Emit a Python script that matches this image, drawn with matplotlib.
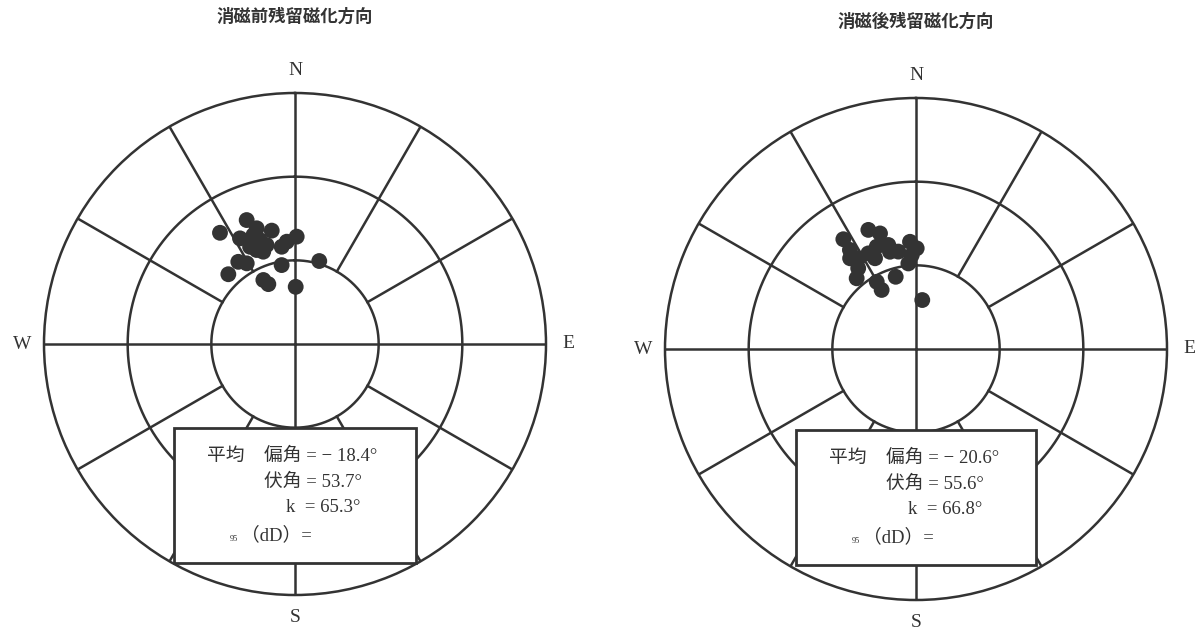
import numpy as np
import matplotlib
matplotlib.use('Agg')
import matplotlib.pyplot as plt
from matplotlib.patches import Rectangle

# declination (deg, clockwise from N) / inclination (deg)
dec_before = [-34.0, -21.3, -18.3, -11.6, -27.5, 0.9, -4.6, -7.8, -18.6, -22.2, -19.0,
              -24.8, -34.6, -30.9, -43.7, -9.6, 16.3, -26.3, -24.0, 0.7, -20.9, -16.0]
inc_before = [41.9, 42.3, 46.3, 48.5, 47.3, 51.5, 53.2, 54.8, 50.7, 53.6, 55.0,
              51.6, 54.2, 56.3, 55.4, 61.3, 59.0, 64.4, 66.5, 69.5, 48.2, 53.1]

dec_after = [-21.8, -17.3, -33.5, -33.7, -36.0, -32.5, -35.6, -40.0, -21.0, -24.3, -14.9,
             -10.3, -15.0, -3.2, 0.4, -2.6, -5.1, -30.3, -30.2, -15.7, 7.3, -26.5]
inc_after = [44.0, 46.6, 42.8, 47.3, 49.8, 51.5, 54.4, 56.9, 50.7, 54.3, 51.4,
             54.5, 53.9, 51.5, 53.9, 56.3, 59.2, 62.1, 65.5, 63.1, 72.3, 51.7]

titles = ['消磁前残留磁化方向', '消磁後残留磁化方向']
mean_dec = ['偏角 = − 18.4°', '偏角 = − 20.6°']
mean_inc = ['伏角 = 53.7°', '伏角 = 55.6°']
k_vals = ['k  = 65.3°', 'k  = 66.8°']

W, H = 1196, 631
ink = '#333333'
fam = ['Liberation Serif', 'Noto Sans CJK JP']


def px(x, y):
    return x / W, 1 - y / H


fig = plt.figure(figsize=(W / 100, H / 100), dpi=100)

# (centre x, centre y, box left, box top, box right, box bottom) in pixels
layout = [(295, 344, 174, 428, 416, 563), (916, 349, 796, 430, 1036, 565)]
R = 251
data = [(dec_before, inc_before), (dec_after, inc_after)]

for i, (cx, cy, bl, bt, br, bb) in enumerate(layout):
    x0, y0 = px(cx - R, cy + R)
    ax = fig.add_axes([x0, y0, 2 * R / W, 2 * R / H], projection='polar')
    ax.set_theta_zero_location('N')
    ax.set_theta_direction(-1)
    ax.set_ylim(0, 90)
    ax.grid(False)
    ax.set_xticks([])
    ax.set_yticks([])
    ax.spines['polar'].set_color(ink)
    ax.spines['polar'].set_linewidth(1.8)

    t = np.linspace(0, 2 * np.pi, 361)
    for rr in (30, 60):
        ax.plot(t, np.full_like(t, rr), color=ink, lw=1.8)
    for a in range(0, 360, 30):
        r0 = 0 if a % 90 == 0 else 30
        ax.plot([np.radians(a)] * 2, [r0, 90], color=ink, lw=1.8)

    dec, inc = data[i]
    ax.scatter(np.radians(dec), 90 - np.array(inc), s=130, color=ink,
               edgecolors='none', zorder=3, clip_on=False)

    for lab, a in zip('NESW', (0, 90, 180, 270)):
        ax.text(np.radians(a), 98, lab, ha='center', va='center', fontsize=14,
                family=fam, color=ink, clip_on=False)

    tx, ty = px(cx, 17 if i == 0 else 22)
    fig.text(tx, ty, titles[i], ha='center', va='center', fontsize=12.5,
             family=fam, fontweight='bold', color=ink)

    bx, by = px(bl, bb)
    fig.add_artist(Rectangle((bx, by), (br - bl) / W, (bb - bt) / H,
                             transform=fig.transFigure, facecolor='white',
                             edgecolor=ink, lw=2, zorder=5))

    ox = bl - 174
    oy = bt - 428
    kw = dict(va='center', ha='left', fontsize=13.5, family=fam, color=ink, zorder=6)
    fig.text(*px(207 + ox, 456 + oy), '平均', **kw)
    fig.text(*px(264 + ox, 456 + oy), mean_dec[i], **kw)
    fig.text(*px(264 + ox, 482 + oy), mean_inc[i], **kw)
    fig.text(*px(286 + ox, 508 + oy), k_vals[i], **kw)
    fig.text(*px(230 + ox, 539 + oy), '95', va='center', ha='left', fontsize=6,
             family=fam, color=ink, zorder=6)
    fig.text(*px(241 + ox, 535 + oy), '（dD）=', **kw)

fig.savefig('out.png', dpi=100, facecolor='white')
